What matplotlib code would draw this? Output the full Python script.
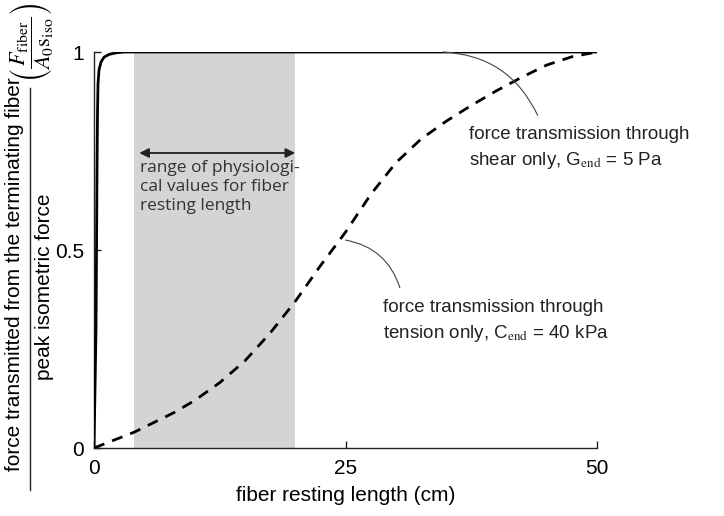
#!/usr/bin/env python3
"""Force transmitted from the terminating fiber vs fiber resting length."""

import matplotlib
matplotlib.use("Agg")
import matplotlib.pyplot as plt
from matplotlib.lines import Line2D

# ── data ──
shear_x = [0, 0.2, 0.3, 0.35, 0.4, 0.5, 0.7, 1.0, 1.5, 2.2, 3.0, 50]
shear_y = [0, 0.3, 0.7, 0.85, 0.92, 0.955, 0.975, 0.987, 0.994, 0.998, 1.0, 1.0]

tension_x = [0, 2, 4, 6, 8, 10, 12.5, 15, 17.5, 20, 22.5, 25, 27.5, 30,
             32.5, 35, 37.5, 40, 42.5, 45, 47.5, 50]
tension_y = [0, 0.02, 0.04, 0.065, 0.09, 0.12, 0.165, 0.22, 0.29, 0.37, 0.46,
             0.545, 0.64, 0.72, 0.78, 0.825, 0.865, 0.902, 0.936, 0.967, 0.988, 1.0]

physio_range = [4, 20]
x_ticks = [0, 25, 50]
y_ticks = [0, 0.5, 1]
y_tick_labels = ["0", "0.5", "1"]

FONT = ["Liberation Sans", "DejaVu Sans"]
plt.rcParams["font.family"] = FONT
plt.rcParams["mathtext.fontset"] = "stix"

fig = plt.figure(figsize=(7.24, 5.16), dpi=100)
ax = fig.add_axes([94 / 724, 1 - 448 / 516, 503 / 724, 396 / 516])

ax.axvspan(*physio_range, color="#d4d4d6", lw=0, zorder=0)
ax.plot(shear_x, shear_y, color="black", lw=2.0, zorder=3)
ax.plot(tension_x, tension_y, color="black", lw=2.0, ls=(0, (4, 3)), zorder=3)

ax.set_xlim(0, 50)
ax.set_ylim(0, 1)
ax.set_xticks(x_ticks)
ax.set_xticklabels([str(t) for t in x_ticks])
ax.set_yticks(y_ticks)
ax.set_yticklabels(y_tick_labels)
ax.tick_params(direction="in", length=5, width=1, labelsize=15, color="#222222")
ax.tick_params(axis="x", pad=8)
ax.tick_params(axis="y", pad=7)
for side in ("top", "right"):
    ax.spines[side].set_visible(False)
for side in ("left", "bottom"):
    ax.spines[side].set_linewidth(1.0)
    ax.spines[side].set_color("#222222")

ax.set_xlabel("fiber resting length (cm)", fontsize=15, labelpad=6)

# range arrow + note
ax.annotate("", xy=(physio_range[1], 0.745), xytext=(4.5, 0.745),
            arrowprops=dict(arrowstyle="<|-|>", color="#222222", lw=1.3,
                            mutation_scale=14, shrinkA=0, shrinkB=0))
ax.text(4.6, 0.728, "range of physiologi-\ncal values for fiber\nresting length",
        fontsize=12.5, family=["Open Sans", "DejaVu Sans"], color="#333333",
        va="top", ha="left", linespacing=1.27)

# curve labels
ax.text(37.3, 0.756, "force transmission through\nshear only, G$_{\\rm end}$ = 5 Pa",
        fontsize=13.5, va="center", ha="left", linespacing=1.45, color="#222222")
ax.text(28.7, 0.319, "force transmission through\ntension only, C$_{\\rm end}$ = 40 kPa",
        fontsize=13.5, va="center", ha="left", linespacing=1.45, color="#222222")

ax.annotate("", xy=(34.7, 1.0), xytext=(44.1, 0.84),
            arrowprops=dict(arrowstyle="-", color="#444444", lw=0.8,
                            shrinkA=0, shrinkB=0,
                            connectionstyle="arc3,rad=0.3"))
ax.annotate("", xy=(25.0, 0.525), xytext=(30.4, 0.405),
            arrowprops=dict(arrowstyle="-", color="#444444", lw=0.8,
                            shrinkA=0, shrinkB=0,
                            connectionstyle="arc3,rad=0.3"))

# y label: fraction with bracketed symbol form
fig.text(15 / 724, 1 - 274 / 516, "force transmitted from the terminating fiber",
         rotation=90, fontsize=15, ha="center", va="center")
fig.text(45 / 724, 1 - 287 / 516, "peak isometric force",
         rotation=90, fontsize=15, ha="center", va="center")
fig.add_artist(Line2D([30 / 724, 30 / 724], [1 - 490 / 516, 1 - 88 / 516],
                      transform=fig.transFigure, color="#222222", lw=1.0))
fig.text(31 / 724, 1 - 42 / 516,
         r"$\left(\dfrac{F_{\rm fiber}}{A_0{\rm s}_{\rm iso}}\right)$",
         rotation=90, fontsize=16, ha="center", va="center")

fig.savefig("out.png", dpi=100)
